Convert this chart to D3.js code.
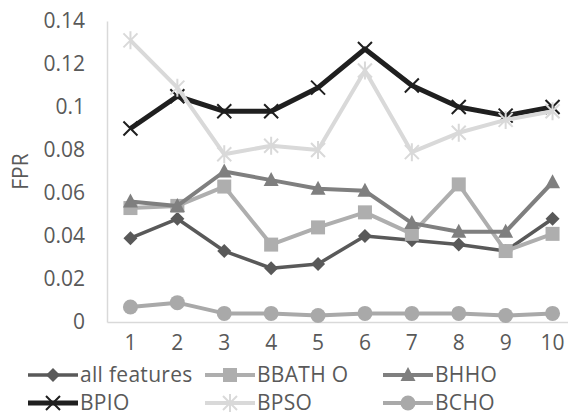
<!DOCTYPE html>
<html>
<head>
<meta charset="utf-8">
<script src="https://cdn.jsdelivr.net/npm/d3@7/dist/d3.min.js"></script>
<style>
  html, body { margin: 0; padding: 0; background: #fff; }
  svg { display: block; }
  text { font-family: "Open Sans", "Noto Sans", sans-serif; fill: #595959; }
</style>
</head>
<body>
<svg id="chart" width="568" height="416"></svg>
<script>
// Fold numbers along the category axis
const categories = ["1", "2", "3", "4", "5", "6", "7", "8", "9", "10"];

// False positive rate for each feature set
const allFeatures = [0.039, 0.048, 0.033, 0.025, 0.027, 0.040, 0.038, 0.036, 0.033, 0.048];
const bbatho      = [0.053, 0.054, 0.063, 0.036, 0.044, 0.051, 0.041, 0.064, 0.033, 0.041];
const bhho        = [0.056, 0.054, 0.070, 0.066, 0.062, 0.061, 0.046, 0.042, 0.042, 0.065];
const bpio        = [0.090, 0.105, 0.098, 0.098, 0.109, 0.127, 0.110, 0.100, 0.096, 0.100];
const bpso        = [0.131, 0.109, 0.078, 0.082, 0.080, 0.117, 0.079, 0.088, 0.094, 0.098];
const bcho        = [0.007, 0.009, 0.004, 0.004, 0.003, 0.004, 0.004, 0.004, 0.003, 0.004];

const seriesNames = ["all features", "BBATH O", "BHHO", "BPIO", "BPSO", "BCHO"];
const yTicks = [0, 0.02, 0.04, 0.06, 0.08, 0.1, 0.12, 0.14];
const yTitle = "FPR";

const series = [
  { name: seriesNames[0], values: allFeatures, color: "#595959", width: 3.5, marker: "diamond" },
  { name: seriesNames[1], values: bbatho,      color: "#aeaeae", width: 4,   marker: "square" },
  { name: seriesNames[2], values: bhho,        color: "#7f7f7f", width: 4,   marker: "triangle" },
  { name: seriesNames[3], values: bpio,        color: "#1f1f1f", width: 5,   marker: "x" },
  { name: seriesNames[4], values: bpso,        color: "#d9d9d9", width: 4,   marker: "star" },
  { name: seriesNames[5], values: bcho,        color: "#a9a9a9", width: 4,   marker: "circle" }
];

const svg = d3.select("#chart");
const plot = { left: 107, right: 576, top: 21, bottom: 322 };
const fontSize = "21px";

const x = d3.scaleBand().domain(categories).range([plot.left, plot.right]);
const xc = d => x(d) + x.bandwidth() / 2;
const y = d3.scaleLinear().domain([0, 0.14]).range([plot.bottom, plot.top]);

// Axes
const yAxis = svg.append("g")
  .attr("transform", `translate(${plot.left},0)`)
  .call(d3.axisLeft(y).tickValues(yTicks).tickSize(0).tickPadding(22)
    .tickFormat(d => d3.format("")(+d.toFixed(2))));
yAxis.select(".domain").attr("stroke", "#d9d9d9").attr("stroke-width", 1.5);
yAxis.selectAll("text").style("font-size", fontSize).attr("fill", "#595959")
  .style("font-family", "'Open Sans', sans-serif");

const xAxis = svg.append("g")
  .attr("transform", `translate(0,${plot.bottom})`)
  .call(d3.axisBottom(x).tickSize(0).tickPadding(13));
xAxis.select(".domain").attr("stroke", "#d9d9d9").attr("stroke-width", 1.5);
xAxis.selectAll("text").style("font-size", fontSize).attr("fill", "#595959")
  .style("font-family", "'Open Sans', sans-serif");

svg.append("text")
  .attr("transform", `translate(28,${(plot.top + plot.bottom) / 2}) rotate(-90)`)
  .attr("text-anchor", "middle")
  .style("font-size", fontSize)
  .text(yTitle);

// Marker drawing shared by plot and legend
function drawMarker(g, type, color) {
  switch (type) {
    case "diamond":
      g.append("path").attr("d", "M0,-7L7,0L0,7L-7,0Z").attr("fill", color);
      break;
    case "square":
      g.append("rect").attr("x", -7).attr("y", -7).attr("width", 14).attr("height", 14).attr("fill", color);
      break;
    case "triangle":
      g.append("path").attr("d", "M0,-8L7.5,6L-7.5,6Z").attr("fill", color);
      break;
    case "circle":
      g.append("circle").attr("r", 7.5).attr("fill", color);
      break;
    case "x":
      g.append("path").attr("d", "M-7,-7L7,7M7,-7L-7,7").attr("stroke", color).attr("stroke-width", 2).attr("fill", "none");
      break;
    case "star":
      g.append("path").attr("d", "M-7,-7L7,7M7,-7L-7,7M0,-9L0,9").attr("stroke", color).attr("stroke-width", 2).attr("fill", "none");
      break;
  }
}

const line = d3.line().x((d, i) => xc(categories[i])).y(d => y(d));

series.forEach(s => {
  const g = svg.append("g");
  g.append("path")
    .attr("d", line(s.values))
    .attr("fill", "none")
    .attr("stroke", s.color)
    .attr("stroke-width", s.width)
    .attr("stroke-linejoin", "round");
  s.values.forEach((v, i) => {
    const m = g.append("g").attr("transform", `translate(${xc(categories[i])},${y(v)})`);
    drawMarker(m, s.marker, s.color);
  });
});

// Legend, three columns by two rows
const legendCols = [28, 205, 383];
const legendRows = [375, 403];
series.forEach((s, i) => {
  const lx = legendCols[i % 3];
  const ly = legendRows[Math.floor(i / 3)];
  const g = svg.append("g").attr("transform", `translate(${lx},${ly})`);
  g.append("line").attr("x1", 0).attr("x2", 50).attr("y1", 0).attr("y2", 0)
    .attr("stroke", s.color).attr("stroke-width", s.width);
  const m = g.append("g").attr("transform", "translate(25,0)");
  drawMarker(m, s.marker, s.color);
  g.append("text").attr("x", 52).attr("y", 0).attr("dy", "0.35em")
    .style("font-size", fontSize).style("letter-spacing", "0.3px").text(s.name);
});
</script>
</body>
</html>
